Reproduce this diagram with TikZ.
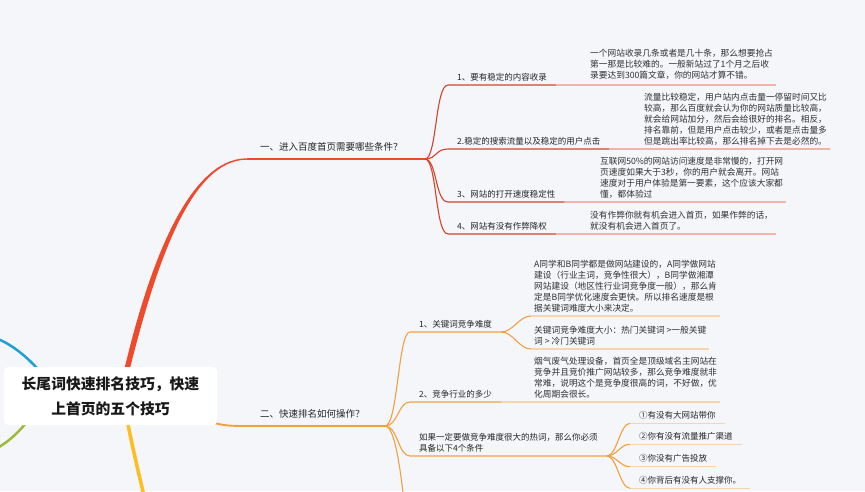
\documentclass[tikz,border=0pt]{standalone}
\usepackage{fontspec}
\setmainfont{Noto Sans CJK SC}
\usetikzlibrary{calc,positioning,backgrounds}
\definecolor{bgcol}{HTML}{F5F6FA}
\definecolor{txt}{HTML}{262626}
\definecolor{txtd}{HTML}{303030}
\definecolor{redm}{HTML}{EE4A2C}
\definecolor{redl}{HTML}{F3B3A9}
\definecolor{orgm}{HTML}{F2A03E}
\definecolor{orgl}{HTML}{F8D4AC}
\definecolor{bluem}{HTML}{1E9FD8}
\definecolor{greenm}{HTML}{9DBB3B}
\definecolor{yelm}{HTML}{FBBF24}
\tikzstyle{every node}+=[inner sep=0pt]
\tikzstyle{root}=[fill=white,rounded corners=4pt,minimum width=213pt,minimum height=58pt,align=center,text=black!90,font=\bfseries\fontsize{14.8}{25}\selectfont]
\tikzstyle{main}=[anchor=south west,inner xsep=13pt,inner ysep=7.4pt,text depth=1pt,text=txt,font=\fontsize{9.5}{12}\selectfont]
\tikzstyle{lblbase}=[anchor=south west,inner xsep=9pt,inner ysep=3.7pt,text=txt,font=\fontsize{8.5}{11}\selectfont]
\tikzstyle{lbl}=[lblbase,text depth=1pt]
\tikzstyle{desc}=[anchor=south west,inner xsep=3pt,inner ysep=3.7pt,align=left,text=txtd,font=\fontsize{8.7}{11}\selectfont]
\tikzstyle{rsub}=[draw=redm!90!black,line width=1.1pt]
\tikzstyle{rlight}=[draw=redl,line width=1.1pt]
\tikzstyle{osub}=[draw=orgm,line width=1.1pt]
\tikzstyle{olight}=[draw=orgl,line width=1.1pt]

\begin{document}
\begin{tikzpicture}[x=1pt,y=-1pt]

\useasboundingbox (0,0) rectangle (865,491);
\begin{scope}[on background layer]
\fill[bgcol] (0,0) rectangle (865,491);
\end{scope}

\node[root] (root) at (110.5,396) {长尾词快速排名技巧，快速\\上首页的五个技巧};

\node[main] (r) at (247,159) {一、进入百度首页需要哪些条件？};
\node[lbl] (r1) at (448,85) {1、要有稳定的内容收录};
\node[lbl] (r2) at (448,149) {2.稳定的搜索流量以及稳定的用户点击};
\node[lbl] (r3) at (448,202) {3、网站的打开速度稳定性};
\node[lbl] (r4) at (448,234) {4、网站有没有作弊降权};
\node[desc] (r1d) at (587,83) {一个网站收录几条或者是几十条，那么想要抢占\\第一那是比较难的。一般新站过了1个月之后收\\录要达到300篇文章，你的网站才算不错。};
\node[desc] (r2d) at (641,149) {流量比较稳定，用户站内点击量一停留时间又比\\较高，那么百度就会认为你的网站质量比较高，\\就会给网站加分，然后会给很好的排名。相反，\\排名靠前，但是用户点击较少，或者是点击量多\\但是跳出率比较高，那么排名掉下去是必然的。};
\node[desc] (r3d) at (597,202) {互联网50\%的网站访问速度是非常慢的，打开网\\页速度如果大于3秒，你的用户就会离开。网站\\速度对于用户体验是第一要素，这个应该大家都\\懂，都体验过};
\node[desc] (r4d) at (587,234) {没有作弊你就有机会进入首页，如果作弊的话，\\就没有机会进入首页了。};

\node[main] (o) at (247,426) {二、快速排名如何操作？};
\node[lbl] (o1) at (410,332) {1、关键词竞争难度};
\node[desc] (o1a) at (531,316) {A同学和B同学都是做网站建设的，A同学做网站\\建设（行业主词，竞争性很大），B同学做湘潭\\网站建设（地区性行业词竞争度一般），那么肯\\定是B同学优化速度会更快。所以排名速度是根\\据关键词难度大小来决定。};
\node[desc] (o1b) at (531,349) {关键词竞争难度大小：热门关键词 >一般关键\\词 > 冷门关键词};
\node[lbl] (o2) at (410,402) {2、竞争行业的多少};
\node[desc] (o2d) at (531,402) {烟气废气处理设备，首页全是顶级域名主网站在\\竞争并且竞价推广网站较多，那么竞争难度就非\\常难，说明这个是竞争度很高的词，不好做，优\\化周期会很长。};
\node[lblbase,align=left] (o3) at (410,456) {如果一定要做竞争难度很大的热词，那么你必须\\具备以下4个条件};
\node[lbl] (o3a) at (630,423.3) {①有没有大网站带你};
\node[lbl] (o3b) at (630,444.3) {②你有没有流量推广渠道};
\node[lbl] (o3c) at (630,466.7) {③你没有广告投放};
\node[lbl] (o3d) at (630,488.3) {④你背后有没有人支撑你。};

\coordinate (rs) at (124,382);
\coordinate (rf) at (425,159);
\coordinate (os) at (195,417);
\coordinate (of) at (385,426);
\coordinate (o4) at (408,530);
\coordinate (bs) at (55,392);
\coordinate (bl) at (-10,336);
\coordinate (gs) at (40,398);
\coordinate (gl) at (-10,452);
\coordinate (ys) at (124,400);
\coordinate (yl) at (146,505);

\begin{scope}[on background layer]
\clip (0,0) rectangle (865,491);
\draw[bluem,line width=2.5pt] (bs) .. controls (45,375) and (20,345) .. (bl);
\draw[greenm,line width=2.5pt] (gs) .. controls (33,418) and (15,440) .. (gl);
\draw[yelm,line width=3.6pt] (ys) .. controls (128,430) and (137,465) .. (yl);

\fill[redm] ([xshift=-2.6pt]rs) .. controls +(26,-115) and +(-59,0) .. ([yshift=0.7pt]r.south west) -- ([yshift=-0.7pt]r.south west) .. controls +(-57,0) and +(28,-115) .. ([xshift=2.6pt]rs) -- cycle;
\draw[redm,line width=1.3pt] (r.south west) -- (rf);
\foreach \n/\d in {r1/r1d,r2/r2d,r3/r3d,r4/r4d}{
  \draw[rsub] (rf) .. controls +(12,0) and +(-13,0) .. (\n.south west) -- (\n.south east);
  \draw[rlight] (\n.south east) -- (\n.south east -| \d.south east);
}

\draw[orgm,line width=1.9pt] (os) .. controls +(25,8) and +(-25,0) .. (o.south west);
\draw[orgm,line width=1.3pt] (o.south west) -- (of);
\foreach \n in {o1,o2,o3}
  \draw[osub] (of) .. controls +(13,0) and +(-12,0) .. (\n.south west) -- (\n.south east);
\draw[osub] (of) .. controls +(13,0) and +(-5,-30) .. (o4);
\foreach \n in {o1a,o1b}{
  \draw[osub] (o1.south east) .. controls +(12,0) and +(-12,0) .. (\n.south west);
  \draw[olight] (\n.south west) -- (\n.south east);
}
\draw[olight] (o2.south east) -- (o2.south east -| o2d.south east);
\foreach \n in {o3a,o3b,o3c,o3d}{
  \draw[osub] (o3.south east) .. controls +(10,0) and +(-10,0) .. (\n.south west);
  \draw[olight] (\n.south west) -- (\n.south east);
}
\end{scope}
\end{tikzpicture}
\end{document}
